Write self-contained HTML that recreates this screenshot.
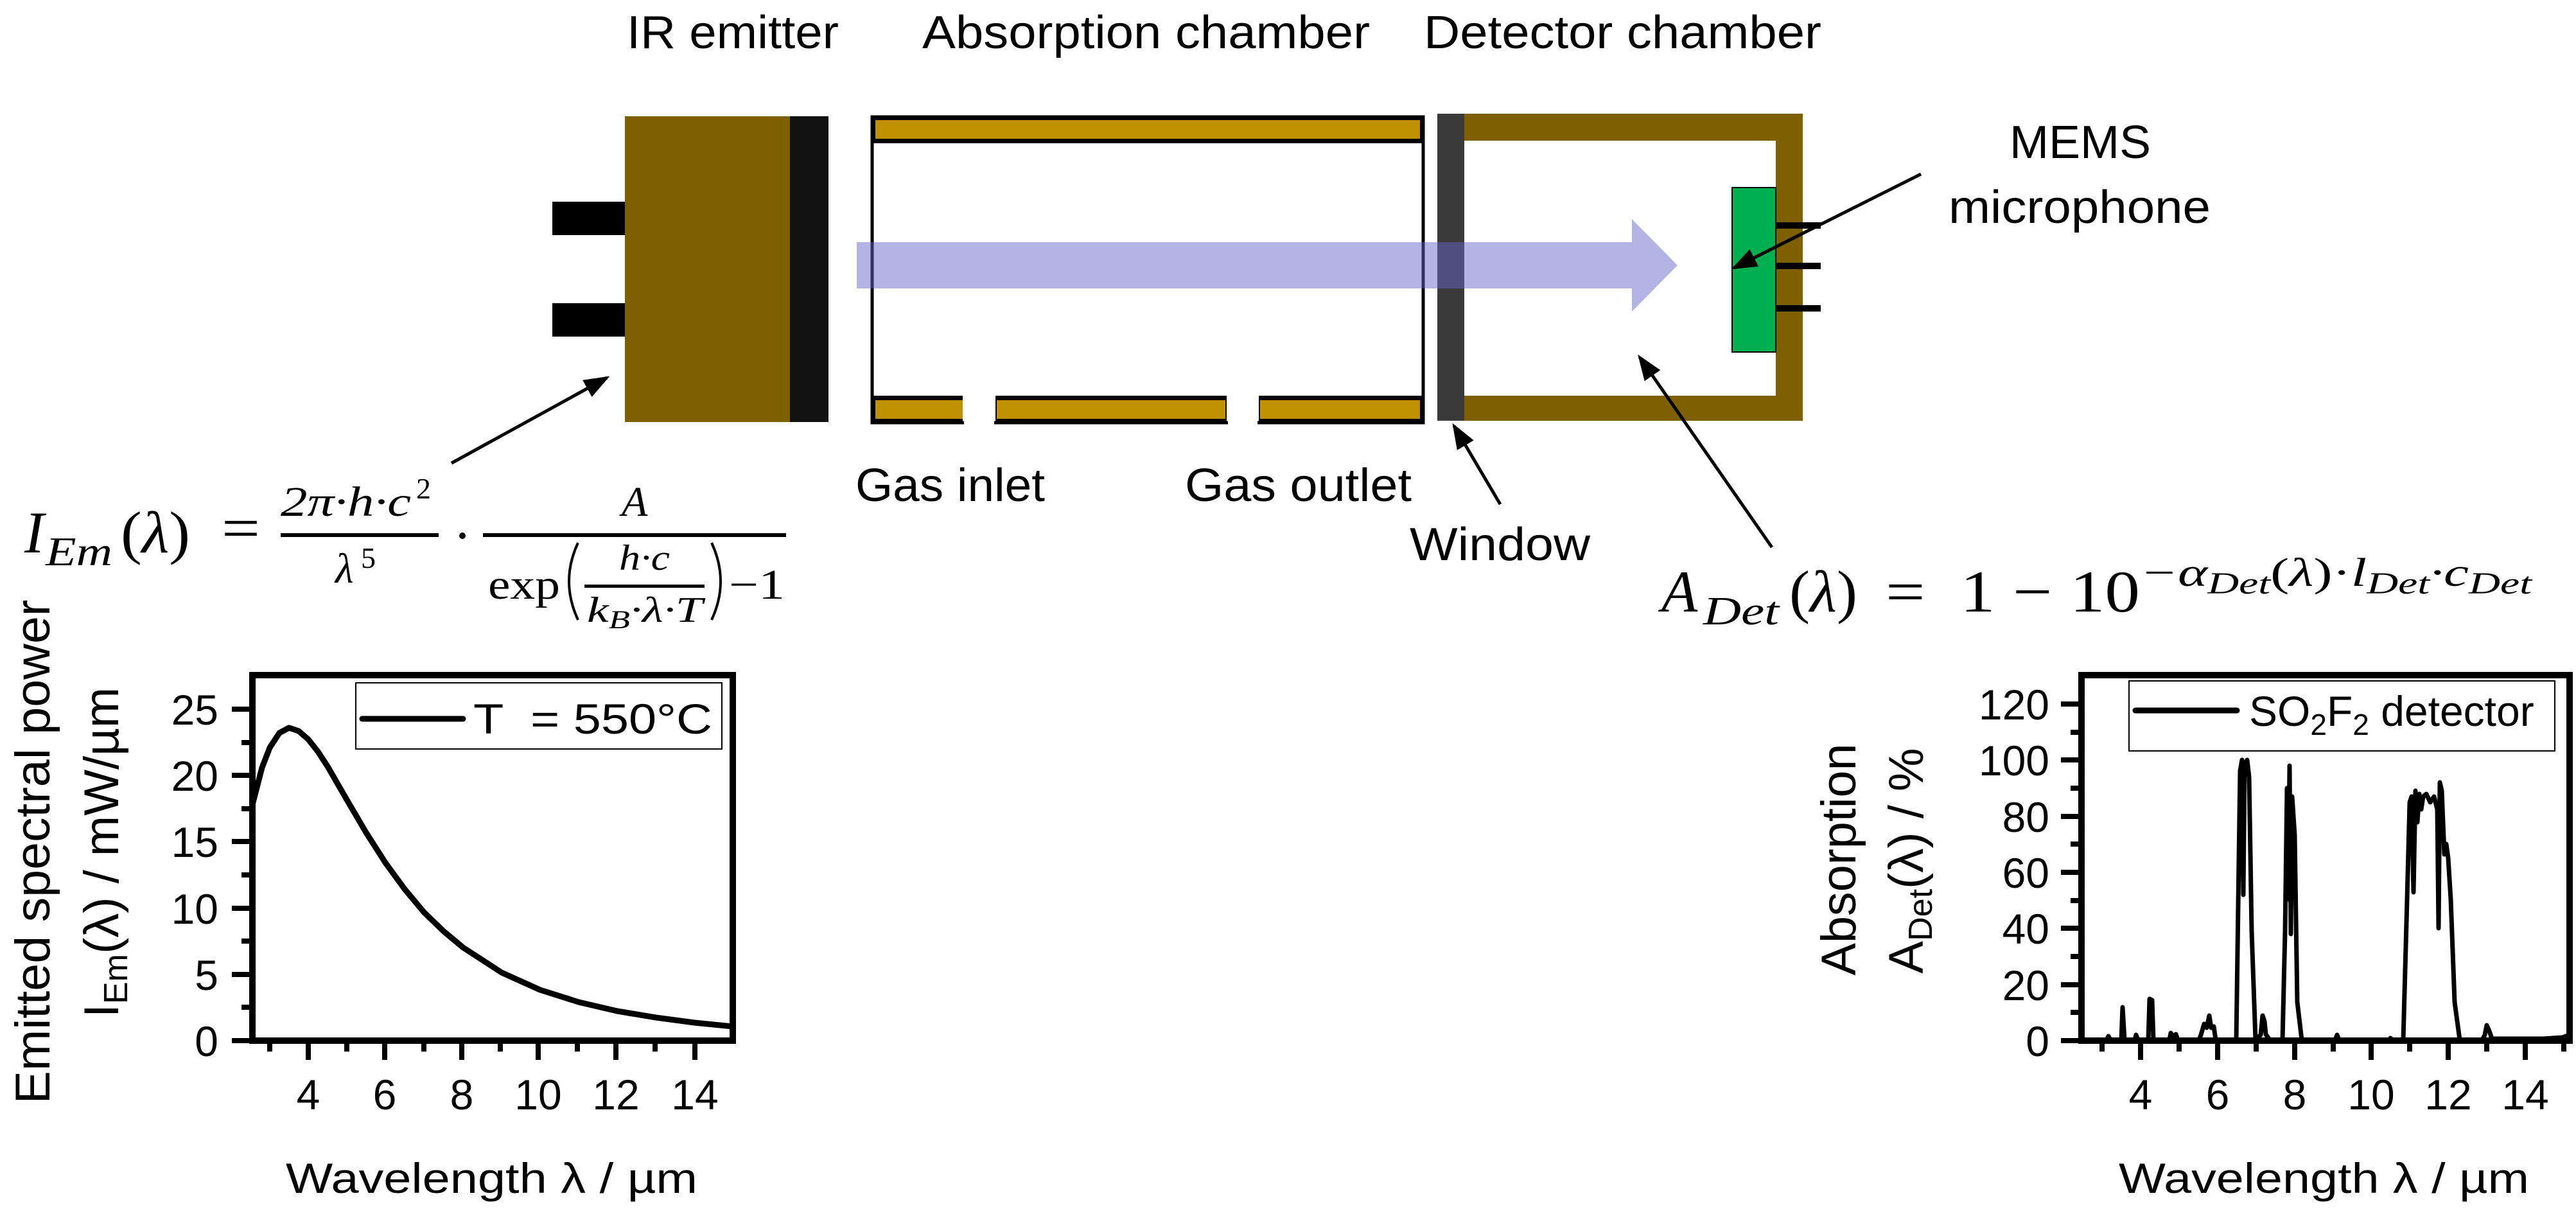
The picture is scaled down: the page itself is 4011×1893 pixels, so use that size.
<!DOCTYPE html>
<html><head><meta charset="utf-8"><style>html,body{margin:0;padding:0;background:#fff}svg{display:block}</style></head>
<body>
<svg width="4011" height="1893" viewBox="0 0 4011 1893" xmlns="http://www.w3.org/2000/svg">
<defs>
<marker id="ah" markerWidth="8" markerHeight="6" refX="7" refY="3" orient="auto" markerUnits="strokeWidth"><path d="M0,0 L8,3 L0,6 z" fill="#000"/></marker>
</defs>
<g font-family="Liberation Sans, sans-serif" fill="#000">
<text x="976" y="75" font-size="72" textLength="330" lengthAdjust="spacingAndGlyphs">IR emitter</text>
<text x="1436" y="75" font-size="72" textLength="697" lengthAdjust="spacingAndGlyphs">Absorption chamber</text>
<text x="2217" y="75" font-size="72" textLength="619" lengthAdjust="spacingAndGlyphs">Detector chamber</text>
<text x="1332" y="780" font-size="72" textLength="295" lengthAdjust="spacingAndGlyphs">Gas inlet</text>
<text x="1845" y="780" font-size="72" textLength="353" lengthAdjust="spacingAndGlyphs">Gas outlet</text>
<text x="2195" y="872" font-size="72" textLength="281" lengthAdjust="spacingAndGlyphs">Window</text>
<text x="3129" y="246" font-size="72" textLength="220" lengthAdjust="spacingAndGlyphs">MEMS</text>
<text x="3034" y="347" font-size="72" textLength="408" lengthAdjust="spacingAndGlyphs">microphone</text>
</g>
<rect x="860" y="314" width="113" height="52" fill="#000"/>
<rect x="860" y="472" width="113" height="52" fill="#000"/>
<rect x="973" y="181" width="257" height="476" fill="#7f6000"/>
<rect x="1230" y="181" width="60" height="476" fill="#111"/>
<rect x="1358" y="182" width="858" height="476" fill="none" stroke="#000" stroke-width="5"/>
<rect x="1356" y="180" width="862" height="43" fill="#000"/>
<rect x="1363" y="187" width="848" height="29" fill="#bf9000"/>
<rect x="1356" y="616" width="143" height="44" fill="#000"/>
<rect x="1363" y="623" width="136" height="29" fill="#bf9000"/>
<rect x="1550" y="616" width="360" height="44" fill="#000"/>
<rect x="1552" y="623" width="356" height="29" fill="#bf9000"/>
<rect x="1960" y="616" width="258" height="44" fill="#000"/>
<rect x="1962" y="623" width="249" height="29" fill="#bf9000"/>
<rect x="1501" y="610" width="47" height="52" fill="#fff"/>
<rect x="1912" y="610" width="46" height="52" fill="#fff"/>
<rect x="2280" y="177" width="527" height="478" fill="#7f6000"/>
<rect x="2280" y="219" width="485" height="397" fill="#fff"/>
<rect x="2238" y="177" width="42" height="478" fill="#3a3a3a"/>
<rect x="2765" y="346" width="70" height="10" fill="#000"/>
<rect x="2765" y="409" width="70" height="10" fill="#000"/>
<rect x="2765" y="475" width="70" height="10" fill="#000"/>
<rect x="2697" y="292" width="68" height="256" fill="#00b050" stroke="#000" stroke-width="2"/>
<path d="M1334,377 L2541,377 L2541,341 L2612,413 L2541,485 L2541,449 L1334,449 z" fill="rgb(100,100,200)" fill-opacity="0.49"/>
<g stroke="#000" stroke-width="5" fill="none" marker-end="url(#ah)">
<line x1="703" y1="721" x2="945" y2="588"/>
<line x1="2336" y1="785" x2="2264" y2="663"/>
<line x1="2759" y1="852" x2="2553" y2="556"/>
<line x1="2991" y1="271" x2="2700" y2="417"/>
</g>
<g font-family="Liberation Serif, serif" font-style="italic" fill="#000">
<text x="38" y="860" font-size="92">I</text>
<text x="71" y="880" font-size="64" textLength="104" lengthAdjust="spacingAndGlyphs">Em</text>
<text x="188" y="860" font-size="92" textLength="108" lengthAdjust="spacingAndGlyphs" font-style="normal">(<tspan font-style="italic">λ</tspan>)</text>
<text x="345" y="853" font-size="92" font-style="normal" textLength="60" lengthAdjust="spacingAndGlyphs">=</text>
<text x="437" y="803" font-size="66" textLength="203" lengthAdjust="spacingAndGlyphs">2π·h·c</text>
<text x="648" y="776" font-size="46" font-style="normal">2</text>
<rect x="437" y="830" width="246" height="6"/>
<text x="522" y="907" font-size="66">λ</text>
<text x="562" y="884" font-size="46" font-style="normal">5</text>
<circle cx="720" cy="834" r="5"/>
<rect x="752" y="830" width="472" height="6"/>
<text x="968" y="803" font-size="66">A</text>
<text x="760" y="932" font-size="66" font-style="normal" textLength="112" lengthAdjust="spacingAndGlyphs">exp</text>
<path d="M900,845 Q872,905 900,965" stroke="#000" stroke-width="4" fill="none"/>
<text x="964" y="887" font-size="56" textLength="79" lengthAdjust="spacingAndGlyphs">h·c</text>
<rect x="910" y="910" width="187" height="5"/>
<text x="914" y="968" font-size="56" textLength="180" lengthAdjust="spacingAndGlyphs">k<tspan font-size="40" dy="10">B</tspan><tspan dy="-10">·λ·T</tspan></text>
<path d="M1108,845 Q1136,905 1108,965" stroke="#000" stroke-width="4" fill="none"/>
<text x="1135" y="932" font-size="66" font-style="normal" textLength="87" lengthAdjust="spacingAndGlyphs">−1</text>
</g>
<g font-family="Liberation Serif, serif" font-style="italic" fill="#000">
<text x="2587" y="952" font-size="92">A</text>
<text x="2652" y="972" font-size="62" textLength="118" lengthAdjust="spacingAndGlyphs">Det</text>
<text x="2786" y="952" font-size="92" font-style="normal" textLength="106" lengthAdjust="spacingAndGlyphs">(<tspan font-style="italic">λ</tspan>)</text>
<text x="2936" y="952" font-size="92" font-style="normal" textLength="396" lengthAdjust="spacingAndGlyphs" xml:space="preserve">=  1 − 10</text>
<text x="3332" y="912" font-size="62" textLength="610" lengthAdjust="spacingAndGlyphs">−α<tspan font-size="48" dy="12">Det</tspan><tspan dy="-12" font-style="normal">(</tspan>λ<tspan font-style="normal">)·</tspan>l<tspan font-size="48" dy="12">Det</tspan><tspan dy="-12">·c</tspan><tspan font-size="48" dy="12">Det</tspan></text>
</g>

<g font-family="Liberation Sans, sans-serif" fill="#000">
<rect x="393" y="1051" width="748" height="569" fill="none" stroke="#000" stroke-width="10"/>
<g stroke="#000" stroke-width="8">
<line x1="361" y1="1620" x2="393" y2="1620"/><line x1="361" y1="1517" x2="393" y2="1517"/><line x1="361" y1="1414" x2="393" y2="1414"/><line x1="361" y1="1310" x2="393" y2="1310"/><line x1="361" y1="1207" x2="393" y2="1207"/><line x1="361" y1="1104" x2="393" y2="1104"/>
<line x1="376" y1="1568" x2="393" y2="1568"/><line x1="376" y1="1465" x2="393" y2="1465"/><line x1="376" y1="1362" x2="393" y2="1362"/><line x1="376" y1="1259" x2="393" y2="1259"/><line x1="376" y1="1156" x2="393" y2="1156"/>
<line x1="480" y1="1620" x2="480" y2="1650"/><line x1="599" y1="1620" x2="599" y2="1650"/><line x1="719" y1="1620" x2="719" y2="1650"/><line x1="838" y1="1620" x2="838" y2="1650"/><line x1="959" y1="1620" x2="959" y2="1650"/><line x1="1082" y1="1620" x2="1082" y2="1650"/>
<line x1="420" y1="1620" x2="420" y2="1637"/><line x1="540" y1="1620" x2="540" y2="1637"/><line x1="660" y1="1620" x2="660" y2="1637"/><line x1="779" y1="1620" x2="779" y2="1637"/><line x1="899" y1="1620" x2="899" y2="1637"/><line x1="1020" y1="1620" x2="1020" y2="1637"/>
</g>
<g font-size="66" text-anchor="end">
<text x="340" y="1644">0</text><text x="340" y="1541">5</text><text x="340" y="1438">10</text><text x="340" y="1334">15</text><text x="340" y="1231">20</text><text x="340" y="1128">25</text>
</g>
<g font-size="66" text-anchor="middle">
<text x="480" y="1727">4</text><text x="599" y="1727">6</text><text x="719" y="1727">8</text><text x="838" y="1727">10</text><text x="959" y="1727">12</text><text x="1082" y="1727">14</text>
</g>
<text x="445" y="1857" font-size="66" textLength="641" lengthAdjust="spacingAndGlyphs">Wavelength λ / µm</text>
<text transform="translate(77,1326) rotate(-90)" text-anchor="middle" font-size="76" textLength="785" lengthAdjust="spacingAndGlyphs">Emitted spectral power</text>
<text transform="translate(184,1327) rotate(-90)" text-anchor="middle" font-size="76">I<tspan font-size="52" dy="14">Em</tspan><tspan dy="-14">(λ) / mW/µm</tspan></text>
<rect x="554" y="1063" width="570" height="103" fill="#fff" stroke="#000" stroke-width="2"/>
<line x1="564" y1="1119" x2="721" y2="1119" stroke="#000" stroke-width="9" stroke-linecap="round"/>
<text x="737" y="1142" font-size="66" textLength="372" lengthAdjust="spacingAndGlyphs" xml:space="preserve">T  = 550°C</text>
<polyline fill="none" stroke="#000" stroke-width="9" stroke-linejoin="round" points="393,1253 408,1195 420,1164 435,1141 450,1133 465,1138 480,1151 495,1170 510,1193 540,1245 570,1296 600,1343 630,1384 660,1420 691,1450 721,1475 781,1514 841,1541 901,1560 961,1574 1021,1584 1081,1592 1141,1598"/>
</g>

<g font-family="Liberation Sans, sans-serif" fill="#000">
<rect x="3241" y="1051" width="760" height="569" fill="none" stroke="#000" stroke-width="10"/>
<g stroke="#000" stroke-width="8">
<line x1="3209" y1="1620" x2="3241" y2="1620"/><line x1="3209" y1="1533" x2="3241" y2="1533"/><line x1="3209" y1="1445" x2="3241" y2="1445"/><line x1="3209" y1="1358" x2="3241" y2="1358"/><line x1="3209" y1="1271" x2="3241" y2="1271"/><line x1="3209" y1="1183" x2="3241" y2="1183"/><line x1="3209" y1="1096" x2="3241" y2="1096"/>
<line x1="3224" y1="1576" x2="3241" y2="1576"/><line x1="3224" y1="1489" x2="3241" y2="1489"/><line x1="3224" y1="1402" x2="3241" y2="1402"/><line x1="3224" y1="1314" x2="3241" y2="1314"/><line x1="3224" y1="1227" x2="3241" y2="1227"/><line x1="3224" y1="1140" x2="3241" y2="1140"/>
<line x1="3333" y1="1620" x2="3333" y2="1650"/><line x1="3453" y1="1620" x2="3453" y2="1650"/><line x1="3573" y1="1620" x2="3573" y2="1650"/><line x1="3692" y1="1620" x2="3692" y2="1650"/><line x1="3812" y1="1620" x2="3812" y2="1650"/><line x1="3932" y1="1620" x2="3932" y2="1650"/>
<line x1="3273" y1="1620" x2="3273" y2="1637"/><line x1="3393" y1="1620" x2="3393" y2="1637"/><line x1="3513" y1="1620" x2="3513" y2="1637"/><line x1="3633" y1="1620" x2="3633" y2="1637"/><line x1="3752" y1="1620" x2="3752" y2="1637"/><line x1="3872" y1="1620" x2="3872" y2="1637"/><line x1="3992" y1="1620" x2="3992" y2="1637"/>
</g>
<g font-size="66" text-anchor="end">
<text x="3191" y="1644">0</text><text x="3191" y="1557">20</text><text x="3191" y="1469">40</text><text x="3191" y="1382">60</text><text x="3191" y="1295">80</text><text x="3191" y="1207">100</text><text x="3191" y="1120">120</text>
</g>
<g font-size="66" text-anchor="middle">
<text x="3333" y="1727">4</text><text x="3453" y="1727">6</text><text x="3573" y="1727">8</text><text x="3692" y="1727">10</text><text x="3812" y="1727">12</text><text x="3932" y="1727">14</text>
</g>
<text x="3299" y="1857" font-size="66" textLength="639" lengthAdjust="spacingAndGlyphs">Wavelength λ / µm</text>
<text transform="translate(2889,1338) rotate(-90)" text-anchor="middle" font-size="76" textLength="361" lengthAdjust="spacingAndGlyphs">Absorption</text>
<text transform="translate(2994,1340) rotate(-90)" text-anchor="middle" font-size="76">A<tspan font-size="52" dy="14">Det</tspan><tspan dy="-14">(λ) / %</tspan></text>
<rect x="3315" y="1060" width="663" height="109" fill="#fff" stroke="#000" stroke-width="2"/>
<line x1="3325" y1="1106" x2="3483" y2="1106" stroke="#000" stroke-width="9" stroke-linecap="round"/>
<text x="3502" y="1130" font-size="66">SO<tspan font-size="46" dy="14">2</tspan><tspan dy="-14">F</tspan><tspan font-size="46" dy="14">2</tspan><tspan dy="-14"> detector</tspan></text>
<path fill="none" stroke="#000" stroke-width="7" stroke-linejoin="round" d="M3243,1619 L3280,1619 L3283,1613 L3286,1619 L3303,1619 L3305,1568 L3308,1619 L3324,1619 L3326,1611 L3329,1619 L3345,1619 L3347,1555 L3351,1557 L3353,1619 L3378,1619 L3380,1608 L3384,1614 L3388,1610 L3391,1619 L3424,1619 L3427,1611 L3432,1594 L3436,1600 L3440,1581 L3443,1600 L3447,1598 L3450,1619 L3482,1619 L3488,1200 L3491,1183 L3493,1393 L3495,1190 L3499,1183 L3502,1210 L3506,1450 L3512,1619 L3520,1611 L3523,1581 L3526,1590 L3528,1610 L3534,1619 L3554,1619 L3558,1450 L3561,1227 L3563,1400 L3565,1192 L3567,1454 L3569,1240 L3573,1300 L3577,1560 L3584,1619 L3636,1619 L3639,1611 L3642,1619 L3720,1619 L3722,1616 L3725,1619 L3742,1619 L3748,1400 L3752,1249 L3755,1240 L3758,1389 L3761,1231 L3764,1280 L3767,1236 L3770,1260 L3773,1240 L3778,1236 L3784,1249 L3790,1240 L3795,1260 L3797,1445 L3799,1218 L3802,1231 L3806,1330 L3809,1314 L3812,1336 L3816,1400 L3822,1560 L3830,1619 L3865,1619 L3869,1611 L3872,1596 L3876,1605 L3880,1617 L3960,1617 L3990,1615 L3998,1612"/>
</g>
</svg>
</body></html>
